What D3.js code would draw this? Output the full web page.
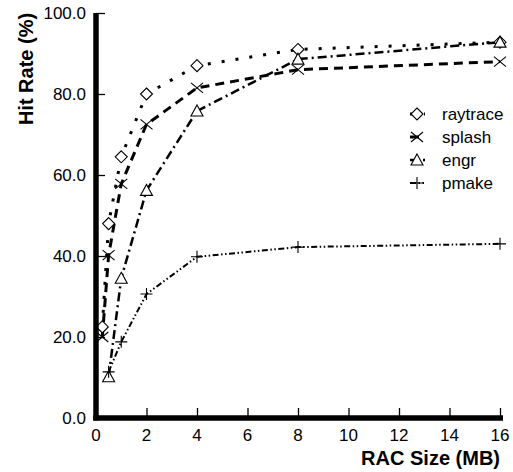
<!DOCTYPE html>
<html>
<head>
<meta charset="utf-8">
<script src="https://cdn.jsdelivr.net/npm/d3@7"></script>
<style>
  body { margin: 0; background: #fff; }
  text { font-family: "Liberation Sans", Arial, sans-serif; fill: #000; }
</style>
</head>
<body>
<script>
// DATA
const seriesNames = ["raytrace", "splash", "engr", "pmake"];
const raytraceX = [0.25, 0.5, 1, 2, 4, 8, 16];
const raytraceY = [22.5, 48, 64.5, 80, 87, 91, 92.8];
const splashX = [0.25, 0.5, 1, 2, 4, 8, 16];
const splashY = [20, 40.2, 57.8, 72.5, 81.5, 86, 88];
const engrX = [0.5, 1, 2, 4, 8, 16];
const engrY = [10.2, 34.5, 56.2, 75.8, 88.6, 92.8];
const pmakeX = [0.5, 1, 2, 4, 8, 16];
const pmakeY = [11.4, 18.8, 30.6, 39.8, 42.2, 43];
const xTicks = [0, 2, 4, 6, 8, 10, 12, 14, 16];
const yTicks = [0, 20, 40, 60, 80, 100];

//USEFUL VARIABLES
const svgwidth = 513, svgheight = 472;
const X = d3.scaleLinear().domain([0, 16]).range([96, 500]);
const Y = d3.scaleLinear().domain([0, 100]).range([418, 13]);

const styles = {
  raytrace: { marker: "diamond", width: 3, dash: "3,11" },
  splash:   { marker: "cross",   width: 3, dash: "9,6" },
  engr:     { marker: "triangle", width: 2.5, dash: "9,4,2,4" },
  pmake:    { marker: "plus",    width: 2, dash: "6,2.5,1.5,2.5,1.5,2.5" }
};
const series = [
  { name: "raytrace", xs: raytraceX, ys: raytraceY },
  { name: "splash", xs: splashX, ys: splashY },
  { name: "engr", xs: engrX, ys: engrY },
  { name: "pmake", xs: pmakeX, ys: pmakeY }
];

const svg = d3.select("body").append("svg")
  .attr("width", svgwidth).attr("height", svgheight);

// marker drawing
const drawMarker = (g, type) => {
  const s = 6;
  if (type === "diamond") {
    g.append("path").attr("d", `M0,${-s}L${s},0L0,${s}L${-s},0Z`)
      .attr("fill", "#fff").attr("stroke", "#000").attr("stroke-width", 1.1);
  } else if (type === "cross") {
    g.append("path").attr("d", `M${-s},${-5}L${s},5M${-s},5L${s},${-5}`)
      .attr("fill", "none").attr("stroke", "#000").attr("stroke-width", 1.1);
  } else if (type === "triangle") {
    g.append("path").attr("d", `M0,${-s}L${s},5L${-s},5Z`)
      .attr("fill", "#fff").attr("stroke", "#000").attr("stroke-width", 1.1);
  } else {
    g.append("path").attr("d", `M${-s},0L${s},0M0,${-s}L0,${s}`)
      .attr("fill", "none").attr("stroke", "#000").attr("stroke-width", 1.1);
  }
};

// LINES
const line = d3.line().x(d => X(d[0])).y(d => Y(d[1]));
series.forEach(sr => {
  const st = styles[sr.name];
  const pts = sr.xs.map((x, i) => [x, sr.ys[i]]);
  svg.append("path").datum(pts)
    .attr("d", line)
    .attr("fill", "none")
    .attr("stroke", "#000")
    .attr("stroke-width", st.width)
    .attr("stroke-dasharray", st.dash);
});
series.forEach(sr => {
  const st = styles[sr.name];
  sr.xs.forEach((x, i) => {
    const g = svg.append("g").attr("transform", `translate(${X(x)},${Y(sr.ys[i])})`);
    drawMarker(g, st.marker);
  });
});

// AXES
const yAxis = svg.append("g").attr("transform", `translate(${X(0)},0)`)
  .call(d3.axisRight(Y).tickValues(yTicks).tickSize(9).tickFormat(""));
yAxis.select(".domain").remove();
yAxis.selectAll("line").attr("stroke-width", 1.3);
const xAxis = svg.append("g").attr("transform", `translate(0,${Y(0)})`)
  .call(d3.axisTop(X).tickValues(xTicks.slice(1)).tickSize(10).tickFormat(""));
xAxis.select(".domain").remove();
xAxis.selectAll("line").attr("stroke-width", 1.3);

svg.append("line").attr("x1", X(0)).attr("x2", X(0))
  .attr("y1", Y(100)).attr("y2", Y(0) + 2.5)
  .attr("stroke", "#000").attr("stroke-width", 5.5);
svg.append("line").attr("x1", X(0) - 2.75).attr("x2", 503)
  .attr("y1", Y(0)).attr("y2", Y(0))
  .attr("stroke", "#000").attr("stroke-width", 5.5);

// tick labels
svg.selectAll(".ylab").data(yTicks).enter().append("text")
  .attr("x", 86).attr("y", d => Y(d)).attr("dy", "0.35em")
  .attr("text-anchor", "end").attr("font-size", 17)
  .text(d => d.toFixed(1));
svg.selectAll(".xlab").data(xTicks).enter().append("text")
  .attr("x", d => X(d)).attr("y", 441)
  .attr("text-anchor", "middle").attr("font-size", 17)
  .text(d => d);

// axis titles
svg.append("text").attr("transform", "translate(33,69) rotate(-90)")
  .attr("text-anchor", "middle").attr("font-size", 20).attr("font-weight", "bold")
  .text("Hit Rate (%)");
svg.append("text").attr("x", 500).attr("y", 465)
  .attr("text-anchor", "end").attr("font-size", 20).attr("font-weight", "bold")
  .text("RAC Size (MB)");

// LEGEND
series.forEach((sr, i) => {
  const st = styles[sr.name];
  const ly = 114 + i * 23;
  svg.append("line").attr("x1", 410).attr("x2", 425).attr("y1", ly).attr("y2", ly)
    .attr("stroke", "#000").attr("stroke-width", st.width)
    .attr("stroke-dasharray", st.dash);
  drawMarker(svg.append("g").attr("transform", `translate(417,${ly})`), st.marker);
  svg.append("text").attr("x", 442).attr("y", ly).attr("dy", "0.35em")
    .attr("font-size", 17).text(sr.name);
});
</script>
</body>
</html>
